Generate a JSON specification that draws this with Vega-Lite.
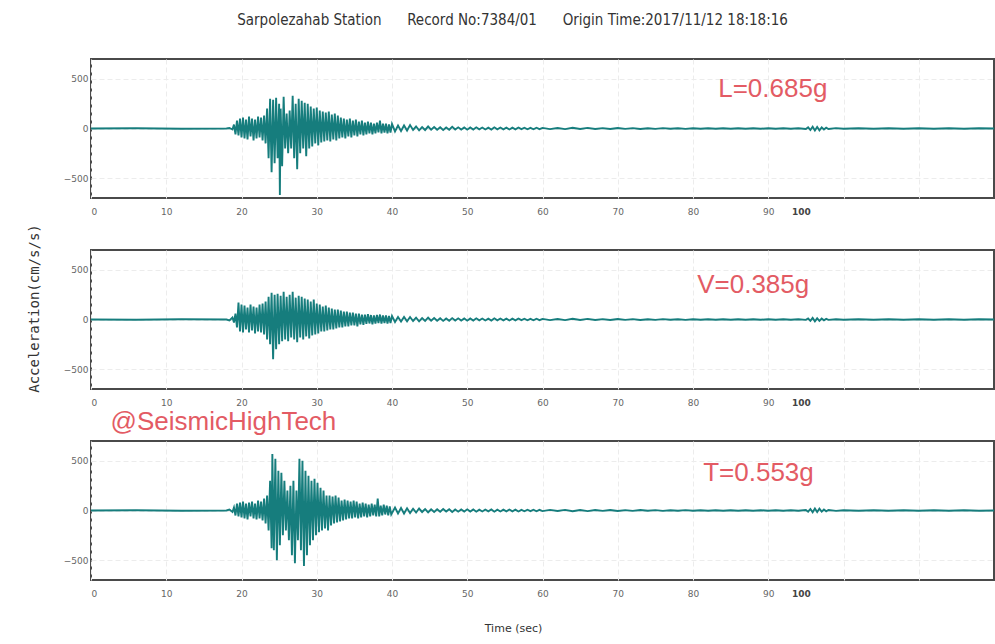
{
  "$schema": "https://vega.github.io/schema/vega-lite/v6.json",
  "background": "white",
  "padding": {"left": 26, "top": 13, "right": 2, "bottom": 8},
  "bounds": "flush",
  "spacing": 52,
  "title": {
    "text": "Sarpolezahab Station\u00a0\u00a0\u00a0\u00a0\u00a0\u00a0Record No:7384/01\u00a0\u00a0\u00a0\u00a0\u00a0\u00a0Origin Time:2017/11/12 18:18:16",
    "font": "DejaVu Sans Condensed, Liberation Sans Narrow, sans-serif",
    "fontSize": 15,
    "fontWeight": "normal",
    "color": "#333333",
    "anchor": "middle",
    "offset": 30
  },
  "config": {
    "view": {"stroke": "#4a4a4a", "strokeWidth": 2},
    "axis": {
      "domain": false,
      "ticks": false,
      "labelFont": "DejaVu Sans",
      "labelFontSize": 9,
      "labelColor": "#666666",
      "gridColor": "#ececec",
      "gridDash": [5, 3],
      "gridWidth": 1,
      "titleFont": "DejaVu Sans",
      "titleFontWeight": "normal",
      "titleColor": "#333333"
    }
  },
  "datasets": {
    "L": [
      {"t":0,"a":0},{"t":6,"a":3},{"t":12,"a":-3},{"t":18,"a":0},{"t":18.4,"a":5},{"t":18.8,"a":-10},
      {"t":19,"a":40},{"t":19.2,"a":-60},{"t":19.4,"a":80},{"t":19.6,"a":-70},{"t":19.8,"a":100},
      {"t":20,"a":-90},{"t":20.2,"a":110},{"t":20.4,"a":-100},{"t":20.6,"a":90},{"t":20.8,"a":-110},
      {"t":21,"a":120},{"t":21.2,"a":-80},{"t":21.4,"a":100},{"t":21.6,"a":-120},{"t":21.8,"a":90},
      {"t":22,"a":-100},{"t":22.2,"a":120},{"t":22.4,"a":-90},{"t":22.6,"a":110},{"t":22.8,"a":-120},
      {"t":23,"a":130},{"t":23.2,"a":-150},{"t":23.4,"a":200},{"t":23.6,"a":-300},{"t":23.8,"a":300},
      {"t":24,"a":-440},{"t":24.2,"a":290},{"t":24.4,"a":-350},{"t":24.6,"a":310},{"t":24.8,"a":-300},
      {"t":25,"a":250},{"t":25.1,"a":-670},{"t":25.2,"a":200},{"t":25.4,"a":-380},{"t":25.6,"a":320},
      {"t":25.8,"a":-200},{"t":26,"a":150},{"t":26.2,"a":-250},{"t":26.4,"a":180},{"t":26.6,"a":-200},
      {"t":26.8,"a":330},{"t":27,"a":-300},{"t":27.2,"a":250},{"t":27.4,"a":-410},{"t":27.6,"a":300},
      {"t":27.8,"a":-250},{"t":28,"a":280},{"t":28.2,"a":-200},{"t":28.4,"a":260},{"t":28.6,"a":-280},
      {"t":28.8,"a":250},{"t":29,"a":-200},{"t":29.2,"a":220},{"t":29.4,"a":-180},{"t":29.6,"a":200},
      {"t":29.8,"a":-150},{"t":30,"a":210},{"t":30.2,"a":-170},{"t":30.4,"a":180},{"t":30.6,"a":-140},
      {"t":30.8,"a":170},{"t":31,"a":-130},{"t":31.2,"a":160},{"t":31.4,"a":-120},{"t":31.6,"a":170},
      {"t":31.8,"a":-130},{"t":32,"a":140},{"t":32.2,"a":-110},{"t":32.4,"a":150},{"t":32.6,"a":-120},
      {"t":32.8,"a":130},{"t":33,"a":-100},{"t":33.2,"a":110},{"t":33.4,"a":-90},{"t":33.6,"a":100},
      {"t":33.8,"a":-100},{"t":34,"a":90},{"t":34.2,"a":-80},{"t":34.4,"a":100},{"t":34.6,"a":-90},
      {"t":34.8,"a":80},{"t":35,"a":-70},{"t":35.2,"a":90},{"t":35.4,"a":-80},{"t":35.6,"a":70},
      {"t":35.8,"a":-60},{"t":36,"a":80},{"t":36.2,"a":-70},{"t":36.4,"a":60},{"t":36.6,"a":-60},
      {"t":36.8,"a":70},{"t":37,"a":-50},{"t":37.2,"a":60},{"t":37.4,"a":-60},{"t":37.6,"a":50},
      {"t":37.8,"a":-50},{"t":38,"a":60},{"t":38.2,"a":-40},{"t":38.4,"a":80},{"t":38.6,"a":-50},
      {"t":38.8,"a":50},{"t":39,"a":-40},{"t":39.2,"a":50},{"t":39.4,"a":-50},{"t":39.6,"a":40},
      {"t":39.8,"a":-40},{"t":40,"a":45},{"t":40.4,"a":-30},{"t":40.8,"a":30},{"t":41.2,"a":-25},
      {"t":41.6,"a":30},{"t":42,"a":-20},{"t":42.4,"a":35},{"t":42.8,"a":-15},{"t":43.2,"a":20},
      {"t":43.6,"a":-18},{"t":44,"a":15},{"t":44.4,"a":-15},{"t":44.8,"a":20},{"t":45.2,"a":-12},
      {"t":45.6,"a":15},{"t":46,"a":-12},{"t":46.4,"a":12},{"t":46.8,"a":-15},{"t":47.2,"a":10},
      {"t":47.6,"a":-12},{"t":48,"a":18},{"t":48.4,"a":-10},{"t":48.8,"a":12},{"t":49.2,"a":-10},
      {"t":49.6,"a":10},{"t":50,"a":-12},{"t":50.4,"a":10},{"t":50.8,"a":-10},{"t":51.2,"a":12},
      {"t":51.6,"a":-8},{"t":52,"a":10},{"t":52.4,"a":-10},{"t":52.8,"a":8},{"t":53.2,"a":-10},
      {"t":53.6,"a":12},{"t":54,"a":-8},{"t":54.4,"a":10},{"t":54.8,"a":-8},{"t":55.2,"a":8},
      {"t":55.6,"a":-10},{"t":56,"a":8},{"t":56.4,"a":-8},{"t":56.8,"a":10},{"t":57.2,"a":-6},
      {"t":57.6,"a":8},{"t":58,"a":-8},{"t":58.4,"a":6},{"t":58.8,"a":-8},{"t":59.2,"a":8},
      {"t":59.6,"a":-6},{"t":60,"a":6},{"t":61,"a":-6},{"t":62,"a":5},{"t":63,"a":-6},{"t":64,"a":7},
      {"t":65,"a":-5},{"t":66,"a":6},{"t":67,"a":-5},{"t":68,"a":4},{"t":69,"a":-5},{"t":70,"a":5},
      {"t":71,"a":-4},{"t":72,"a":4},{"t":73,"a":-5},{"t":74,"a":3},{"t":75,"a":-4},{"t":76,"a":4},
      {"t":77,"a":-3},{"t":78,"a":3},{"t":79,"a":-4},{"t":80,"a":3},{"t":81,"a":-3},{"t":82,"a":3},
      {"t":83,"a":-3},{"t":84,"a":3},{"t":85,"a":-3},{"t":86,"a":3},{"t":87,"a":-3},{"t":88,"a":3},
      {"t":89,"a":-3},{"t":90,"a":3},{"t":91,"a":-3},{"t":92,"a":2},{"t":93,"a":-3},{"t":94,"a":3},
      {"t":95,"a":-5},{"t":95.3,"a":12},{"t":95.6,"a":-15},{"t":95.9,"a":18},{"t":96.2,"a":-20},
      {"t":96.5,"a":15},{"t":96.8,"a":-18},{"t":97.1,"a":12},{"t":97.4,"a":-10},{"t":97.7,"a":8},
      {"t":98,"a":-5},{"t":99,"a":4},{"t":100,"a":-3},{"t":102,"a":3},{"t":104,"a":-3},{"t":106,"a":3},
      {"t":108,"a":-3},{"t":110,"a":2},{"t":112,"a":-2},{"t":114,"a":2},{"t":116,"a":-2},{"t":118,"a":2},
      {"t":120,"a":0}
    ],
    "V": [
      {"t":0,"a":0},{"t":6,"a":-3},{"t":12,"a":3},{"t":18,"a":0},{"t":18.4,"a":-10},{"t":18.8,"a":20},
      {"t":19,"a":-30},{"t":19.2,"a":60},{"t":19.4,"a":-80},{"t":19.6,"a":170},{"t":19.8,"a":-120},
      {"t":20,"a":150},{"t":20.2,"a":-130},{"t":20.4,"a":140},{"t":20.6,"a":-100},{"t":20.8,"a":120},
      {"t":21,"a":-130},{"t":21.2,"a":150},{"t":21.4,"a":-110},{"t":21.6,"a":130},{"t":21.8,"a":-140},
      {"t":22,"a":120},{"t":22.2,"a":-120},{"t":22.4,"a":150},{"t":22.6,"a":-130},{"t":22.8,"a":160},
      {"t":23,"a":-150},{"t":23.2,"a":180},{"t":23.4,"a":-200},{"t":23.6,"a":230},{"t":23.8,"a":-250},
      {"t":24,"a":270},{"t":24.2,"a":-400},{"t":24.4,"a":250},{"t":24.6,"a":-300},{"t":24.8,"a":260},
      {"t":25,"a":-250},{"t":25.2,"a":240},{"t":25.4,"a":-220},{"t":25.6,"a":280},{"t":25.8,"a":-200},
      {"t":26,"a":230},{"t":26.2,"a":-220},{"t":26.4,"a":250},{"t":26.6,"a":-180},{"t":26.8,"a":280},
      {"t":27,"a":-200},{"t":27.2,"a":220},{"t":27.4,"a":-230},{"t":27.6,"a":240},{"t":27.8,"a":-180},
      {"t":28,"a":230},{"t":28.2,"a":-200},{"t":28.4,"a":210},{"t":28.6,"a":-170},{"t":28.8,"a":200},
      {"t":29,"a":-190},{"t":29.2,"a":180},{"t":29.4,"a":-160},{"t":29.6,"a":200},{"t":29.8,"a":-150},
      {"t":30,"a":160},{"t":30.2,"a":-140},{"t":30.4,"a":150},{"t":30.6,"a":-120},{"t":30.8,"a":130},
      {"t":31,"a":-120},{"t":31.2,"a":140},{"t":31.4,"a":-110},{"t":31.6,"a":120},{"t":31.8,"a":-100},
      {"t":32,"a":110},{"t":32.2,"a":-100},{"t":32.4,"a":100},{"t":32.6,"a":-90},{"t":32.8,"a":100},
      {"t":33,"a":-80},{"t":33.2,"a":90},{"t":33.4,"a":-80},{"t":33.6,"a":80},{"t":33.8,"a":-70},
      {"t":34,"a":80},{"t":34.2,"a":-70},{"t":34.4,"a":70},{"t":34.6,"a":-60},{"t":34.8,"a":70},
      {"t":35,"a":-60},{"t":35.2,"a":60},{"t":35.4,"a":-70},{"t":35.6,"a":60},{"t":35.8,"a":-50},
      {"t":36,"a":50},{"t":36.2,"a":-55},{"t":36.4,"a":50},{"t":36.6,"a":-45},{"t":36.8,"a":55},
      {"t":37,"a":-40},{"t":37.2,"a":45},{"t":37.4,"a":-50},{"t":37.6,"a":40},{"t":37.8,"a":-40},
      {"t":38,"a":45},{"t":38.2,"a":-35},{"t":38.4,"a":50},{"t":38.6,"a":-40},{"t":38.8,"a":40},
      {"t":39,"a":-35},{"t":39.2,"a":40},{"t":39.4,"a":-40},{"t":39.6,"a":35},{"t":39.8,"a":-35},
      {"t":40,"a":35},{"t":40.4,"a":-25},{"t":40.8,"a":25},{"t":41.2,"a":-20},{"t":41.6,"a":25},
      {"t":42,"a":-18},{"t":42.4,"a":25},{"t":42.8,"a":-15},{"t":43.2,"a":18},{"t":43.6,"a":-18},
      {"t":44,"a":15},{"t":44.4,"a":-15},{"t":44.8,"a":18},{"t":45.2,"a":-12},{"t":45.6,"a":15},
      {"t":46,"a":-12},{"t":46.4,"a":12},{"t":46.8,"a":-14},{"t":47.2,"a":10},{"t":47.6,"a":-12},
      {"t":48,"a":14},{"t":48.4,"a":-10},{"t":48.8,"a":12},{"t":49.2,"a":-10},{"t":49.6,"a":10},
      {"t":50,"a":-12},{"t":50.4,"a":10},{"t":50.8,"a":-10},{"t":51.2,"a":12},{"t":51.6,"a":-8},
      {"t":52,"a":10},{"t":52.4,"a":-10},{"t":52.8,"a":8},{"t":53.2,"a":-10},{"t":53.6,"a":12},
      {"t":54,"a":-8},{"t":54.4,"a":10},{"t":54.8,"a":-8},{"t":55.2,"a":8},{"t":55.6,"a":-10},
      {"t":56,"a":8},{"t":56.4,"a":-8},{"t":56.8,"a":10},{"t":57.2,"a":-6},{"t":57.6,"a":8},
      {"t":58,"a":-8},{"t":58.4,"a":6},{"t":58.8,"a":-8},{"t":59.2,"a":8},{"t":59.6,"a":-6},
      {"t":60,"a":6},{"t":61,"a":-6},{"t":62,"a":5},{"t":63,"a":-6},{"t":64,"a":7},{"t":65,"a":-5},
      {"t":66,"a":6},{"t":67,"a":-5},{"t":68,"a":4},{"t":69,"a":-5},{"t":70,"a":5},{"t":71,"a":-4},
      {"t":72,"a":4},{"t":73,"a":-5},{"t":74,"a":3},{"t":75,"a":-4},{"t":76,"a":4},{"t":77,"a":-3},
      {"t":78,"a":3},{"t":79,"a":-4},{"t":80,"a":3},{"t":81,"a":-3},{"t":82,"a":3},{"t":83,"a":-3},
      {"t":84,"a":3},{"t":85,"a":-3},{"t":86,"a":3},{"t":87,"a":-3},{"t":88,"a":3},{"t":89,"a":-3},
      {"t":90,"a":3},{"t":91,"a":-3},{"t":92,"a":3},{"t":93,"a":-3},{"t":94,"a":3},{"t":95,"a":-4},
      {"t":95.3,"a":10},{"t":95.6,"a":-14},{"t":95.9,"a":16},{"t":96.2,"a":-18},{"t":96.5,"a":12},
      {"t":96.8,"a":-14},{"t":97.1,"a":10},{"t":97.4,"a":-8},{"t":97.7,"a":6},{"t":98,"a":-4},
      {"t":99,"a":3},{"t":100,"a":-3},{"t":102,"a":3},{"t":104,"a":-3},{"t":106,"a":3},{"t":108,"a":-3},
      {"t":110,"a":2},{"t":112,"a":-2},{"t":114,"a":2},{"t":116,"a":-2},{"t":118,"a":2},{"t":120,"a":0}
    ],
    "T": [
      {"t":0,"a":0},{"t":6,"a":2},{"t":12,"a":-2},{"t":18,"a":0},{"t":18.4,"a":10},{"t":18.8,"a":-15},
      {"t":19,"a":30},{"t":19.2,"a":-50},{"t":19.4,"a":70},{"t":19.6,"a":-60},{"t":19.8,"a":80},
      {"t":20,"a":-70},{"t":20.2,"a":90},{"t":20.4,"a":-80},{"t":20.6,"a":70},{"t":20.8,"a":-90},
      {"t":21,"a":80},{"t":21.2,"a":-60},{"t":21.4,"a":90},{"t":21.6,"a":-80},{"t":21.8,"a":70},
      {"t":22,"a":-90},{"t":22.2,"a":100},{"t":22.4,"a":-80},{"t":22.6,"a":90},{"t":22.8,"a":-100},
      {"t":23,"a":120},{"t":23.2,"a":-130},{"t":23.4,"a":150},{"t":23.6,"a":-200},{"t":23.8,"a":300},
      {"t":24,"a":-380},{"t":24.1,"a":570},{"t":24.3,"a":-400},{"t":24.5,"a":520},{"t":24.7,"a":-500},
      {"t":24.9,"a":400},{"t":25.1,"a":-350},{"t":25.3,"a":380},{"t":25.5,"a":-250},{"t":25.7,"a":300},
      {"t":25.9,"a":-200},{"t":26.1,"a":200},{"t":26.3,"a":-300},{"t":26.5,"a":250},{"t":26.7,"a":-450},
      {"t":26.9,"a":300},{"t":27.1,"a":-530},{"t":27.3,"a":200},{"t":27.5,"a":-300},{"t":27.7,"a":520},
      {"t":27.9,"a":-400},{"t":28.1,"a":500},{"t":28.3,"a":-560},{"t":28.5,"a":400},{"t":28.7,"a":-450},
      {"t":28.9,"a":350},{"t":29.1,"a":-350},{"t":29.3,"a":300},{"t":29.5,"a":-300},{"t":29.7,"a":320},
      {"t":29.9,"a":-250},{"t":30.1,"a":280},{"t":30.3,"a":-220},{"t":30.5,"a":230},{"t":30.7,"a":-200},
      {"t":30.9,"a":200},{"t":31.1,"a":-180},{"t":31.3,"a":150},{"t":31.5,"a":-200},{"t":31.7,"a":150},
      {"t":31.9,"a":-150},{"t":32.1,"a":140},{"t":32.3,"a":-130},{"t":32.5,"a":150},{"t":32.7,"a":-120},
      {"t":32.9,"a":130},{"t":33.1,"a":-110},{"t":33.3,"a":100},{"t":33.5,"a":-100},{"t":33.7,"a":110},
      {"t":33.9,"a":-90},{"t":34.1,"a":100},{"t":34.3,"a":-80},{"t":34.5,"a":90},{"t":34.7,"a":-80},
      {"t":34.9,"a":100},{"t":35.1,"a":-70},{"t":35.3,"a":90},{"t":35.5,"a":-80},{"t":35.7,"a":70},
      {"t":35.9,"a":-70},{"t":36.1,"a":80},{"t":36.3,"a":-60},{"t":36.5,"a":70},{"t":36.7,"a":-70},
      {"t":36.9,"a":60},{"t":37.1,"a":-60},{"t":37.3,"a":70},{"t":37.5,"a":-50},{"t":37.7,"a":60},
      {"t":37.9,"a":-60},{"t":38.1,"a":120},{"t":38.3,"a":-60},{"t":38.5,"a":50},{"t":38.7,"a":-50},
      {"t":38.9,"a":60},{"t":39.1,"a":-40},{"t":39.3,"a":50},{"t":39.5,"a":-50},{"t":39.7,"a":40},
      {"t":39.9,"a":-40},{"t":40.4,"a":30},{"t":40.8,"a":-30},{"t":41.2,"a":25},{"t":41.6,"a":-30},
      {"t":42,"a":22},{"t":42.4,"a":-25},{"t":42.8,"a":18},{"t":43.2,"a":-20},{"t":43.6,"a":20},
      {"t":44,"a":-15},{"t":44.4,"a":15},{"t":44.8,"a":-18},{"t":45.2,"a":12},{"t":45.6,"a":-15},
      {"t":46,"a":12},{"t":46.4,"a":-12},{"t":46.8,"a":15},{"t":47.2,"a":-10},{"t":47.6,"a":12},
      {"t":48,"a":-15},{"t":48.4,"a":10},{"t":48.8,"a":-12},{"t":49.2,"a":10},{"t":49.6,"a":-10},
      {"t":50,"a":12},{"t":50.4,"a":-10},{"t":50.8,"a":10},{"t":51.2,"a":-12},{"t":51.6,"a":8},
      {"t":52,"a":-10},{"t":52.4,"a":10},{"t":52.8,"a":-8},{"t":53.2,"a":10},{"t":53.6,"a":-12},
      {"t":54,"a":8},{"t":54.4,"a":-10},{"t":54.8,"a":8},{"t":55.2,"a":-8},{"t":55.6,"a":10},
      {"t":56,"a":-8},{"t":56.4,"a":8},{"t":56.8,"a":-10},{"t":57.2,"a":6},{"t":57.6,"a":-8},
      {"t":58,"a":8},{"t":58.4,"a":-6},{"t":58.8,"a":8},{"t":59.2,"a":-8},{"t":59.6,"a":6},
      {"t":60,"a":-6},{"t":61,"a":6},{"t":62,"a":-5},{"t":63,"a":6},{"t":64,"a":-7},{"t":65,"a":5},
      {"t":66,"a":-6},{"t":67,"a":5},{"t":68,"a":-4},{"t":69,"a":5},{"t":70,"a":-5},{"t":71,"a":4},
      {"t":72,"a":-4},{"t":73,"a":5},{"t":74,"a":-3},{"t":75,"a":4},{"t":76,"a":-4},{"t":77,"a":3},
      {"t":78,"a":-3},{"t":79,"a":4},{"t":80,"a":-3},{"t":81,"a":3},{"t":82,"a":-3},{"t":83,"a":3},
      {"t":84,"a":-3},{"t":85,"a":3},{"t":86,"a":-3},{"t":87,"a":3},{"t":88,"a":-3},{"t":89,"a":3},
      {"t":90,"a":-3},{"t":91,"a":3},{"t":92,"a":-2},{"t":93,"a":3},{"t":94,"a":-3},{"t":95,"a":5},
      {"t":95.3,"a":-12},{"t":95.6,"a":15},{"t":95.9,"a":-18},{"t":96.2,"a":20},{"t":96.5,"a":-15},
      {"t":96.8,"a":18},{"t":97.1,"a":-12},{"t":97.4,"a":10},{"t":97.7,"a":-8},{"t":98,"a":5},
      {"t":99,"a":-4},{"t":100,"a":3},{"t":102,"a":-3},{"t":104,"a":3},{"t":106,"a":-3},{"t":108,"a":3},
      {"t":110,"a":-2},{"t":112,"a":2},{"t":114,"a":-2},{"t":116,"a":2},{"t":118,"a":-2},{"t":120,"a":0}
    ],
    "notes": [
      {"p":"L","k":"g","s":"L=0.685g","t":90.6,"a":400},
      {"p":"V","k":"g","s":"V=0.385g","t":88.0,"a":345},
      {"p":"T","k":"g","s":"T=0.553g","t":88.7,"a":375},
      {"p":"V","k":"w","s":"@SeismicHighTech","t":17.6,"a":-1030},
      {"p":"L","k":"h","s":"100","t":94.4,"a":-840},
      {"p":"V","k":"h","s":"100","t":94.4,"a":-840},
      {"p":"T","k":"h","s":"100","t":94.4,"a":-840}
    ]
  },
  "vconcat": [
    {
      "width": 903, "height": 139,
      "layer": [
        {
          "data": {"name": "L"},
          "mark": {"type": "line", "color": "#167d7d", "strokeWidth": 1.9},
          "encoding": {
            "x": {"field": "t", "type": "quantitative", "scale": {"domain": [0, 120], "nice": false},
                  "axis": {"title": null, "values": [0,10,20,30,40,50,60,70,80,90,100,110], "labelExpr": "datum.value > 90 ? '' : datum.label", "labelPadding": 9}},
            "y": {"field": "a", "type": "quantitative", "scale": {"domain": [-700, 700], "nice": false},
                  "axis": {"title": null, "values": [-500, 0, 500], "labelPadding": 3}}
          }
        },
        {
          "data": {"name": "notes"},
          "transform": [{"filter": "datum.p == 'L' && datum.k == 'g'"}],
          "mark": {"type": "text", "font": "Liberation Sans", "fontSize": 26, "color": "#e35b64", "align": "center", "baseline": "middle"},
          "encoding": {"x": {"field": "t", "type": "quantitative"}, "y": {"field": "a", "type": "quantitative"}, "text": {"field": "s"}}
        },
        {
          "data": {"name": "notes"},
          "transform": [{"filter": "datum.p == 'L' && datum.k == 'h'"}],
          "mark": {"type": "text", "font": "DejaVu Sans", "fontSize": 9, "fontWeight": "bold", "color": "#444444", "align": "center", "baseline": "middle"},
          "encoding": {"x": {"field": "t", "type": "quantitative"}, "y": {"field": "a", "type": "quantitative"}, "text": {"field": "s"}}
        }
      ]
    },
    {
      "width": 903, "height": 139,
      "layer": [
        {
          "data": {"name": "V"},
          "mark": {"type": "line", "color": "#167d7d", "strokeWidth": 1.9},
          "encoding": {
            "x": {"field": "t", "type": "quantitative", "scale": {"domain": [0, 120], "nice": false},
                  "axis": {"title": null, "values": [0,10,20,30,40,50,60,70,80,90,100,110], "labelExpr": "datum.value > 90 ? '' : datum.label", "labelPadding": 9}},
            "y": {"field": "a", "type": "quantitative", "scale": {"domain": [-700, 700], "nice": false},
                  "axis": {"title": "Acceleration(cm/s/s)", "titleFont": "DejaVu Sans Mono", "titleFontSize": 14, "titlePadding": 22, "titleY": 58, "values": [-500, 0, 500], "labelPadding": 3}}
          }
        },
        {
          "data": {"name": "notes"},
          "transform": [{"filter": "datum.p == 'V' && datum.k == 'g'"}],
          "mark": {"type": "text", "font": "Liberation Sans", "fontSize": 26, "color": "#e35b64", "align": "center", "baseline": "middle"},
          "encoding": {"x": {"field": "t", "type": "quantitative"}, "y": {"field": "a", "type": "quantitative"}, "text": {"field": "s"}}
        },
        {
          "data": {"name": "notes"},
          "transform": [{"filter": "datum.p == 'V' && datum.k == 'w'"}],
          "mark": {"type": "text", "font": "Liberation Sans", "fontSize": 26, "color": "#e35b64", "align": "center", "baseline": "middle"},
          "encoding": {"x": {"field": "t", "type": "quantitative"}, "y": {"field": "a", "type": "quantitative"}, "text": {"field": "s"}}
        },
        {
          "data": {"name": "notes"},
          "transform": [{"filter": "datum.p == 'V' && datum.k == 'h'"}],
          "mark": {"type": "text", "font": "DejaVu Sans", "fontSize": 9, "fontWeight": "bold", "color": "#444444", "align": "center", "baseline": "middle"},
          "encoding": {"x": {"field": "t", "type": "quantitative"}, "y": {"field": "a", "type": "quantitative"}, "text": {"field": "s"}}
        }
      ]
    },
    {
      "width": 903, "height": 139,
      "layer": [
        {
          "data": {"name": "T"},
          "mark": {"type": "line", "color": "#167d7d", "strokeWidth": 1.9},
          "encoding": {
            "x": {"field": "t", "type": "quantitative", "scale": {"domain": [0, 120], "nice": false},
                  "axis": {"title": "Time (sec)", "titleFontSize": 11, "titlePadding": 24, "titleX": 422, "values": [0,10,20,30,40,50,60,70,80,90,100,110], "labelExpr": "datum.value > 90 ? '' : datum.label", "labelPadding": 9}},
            "y": {"field": "a", "type": "quantitative", "scale": {"domain": [-700, 700], "nice": false},
                  "axis": {"title": null, "values": [-500, 0, 500], "labelPadding": 3}}
          }
        },
        {
          "data": {"name": "notes"},
          "transform": [{"filter": "datum.p == 'T' && datum.k == 'g'"}],
          "mark": {"type": "text", "font": "Liberation Sans", "fontSize": 26, "color": "#e35b64", "align": "center", "baseline": "middle"},
          "encoding": {"x": {"field": "t", "type": "quantitative"}, "y": {"field": "a", "type": "quantitative"}, "text": {"field": "s"}}
        },
        {
          "data": {"name": "notes"},
          "transform": [{"filter": "datum.p == 'T' && datum.k == 'h'"}],
          "mark": {"type": "text", "font": "DejaVu Sans", "fontSize": 9, "fontWeight": "bold", "color": "#444444", "align": "center", "baseline": "middle"},
          "encoding": {"x": {"field": "t", "type": "quantitative"}, "y": {"field": "a", "type": "quantitative"}, "text": {"field": "s"}}
        }
      ]
    }
  ]
}
